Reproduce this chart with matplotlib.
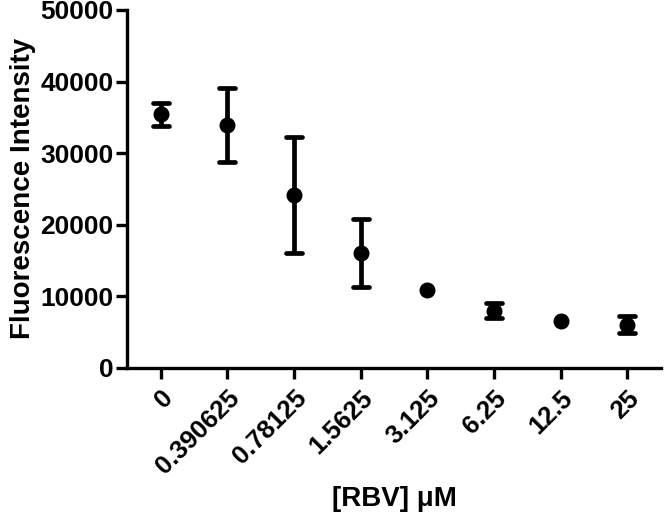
import matplotlib
matplotlib.use("Agg")
import matplotlib.pyplot as plt
from matplotlib.markers import MarkerStyle
import numpy as np

categories = ["0", "0.390625", "0.78125", "1.5625", "3.125", "6.25", "12.5", "25"]
means = [35400, 33900, 24150, 16050, 10900, 7950, 6550, 6050]
errors = [1550, 5150, 8150, 4750, 300, 1050, 300, 1250]

plt.rcParams['font.family'] = ['Liberation Sans', 'DejaVu Sans']
plt.rcParams['font.weight'] = 'bold'

fig = plt.figure(figsize=(6.64, 5.24), dpi=100)
ax = fig.add_axes([0.192, 0.298, 0.803, 0.683])
x = np.arange(len(categories))
means_a = np.array(means, dtype=float)
err_a = np.array(errors, dtype=float)
# error bars shorter than the symbol are hidden (as in the original)
vis = err_a > 700
_, caps, _ = ax.errorbar(x[vis], means_a[vis], yerr=err_a[vis], fmt='none', ecolor='black',
                         elinewidth=3.4, capsize=5.5, capthick=3.4)
for c in caps:
    c.set_marker(MarkerStyle('_', capstyle='round'))
ax.plot(x, means_a, 'o', color='black', ms=10.5, zorder=3)
ax.set_xlim(-0.5, len(categories) - 0.5)
ax.set_ylim(0, 50000)
ax.set_yticks([0, 10000, 20000, 30000, 40000, 50000])
ax.set_xticks(x)
ax.set_xticklabels(categories, rotation=45, ha='right', rotation_mode='anchor',
                   fontsize=18.5, fontweight='bold')
for lab in ax.get_yticklabels():
    lab.set_fontsize(19)
    lab.set_fontweight('bold')
for s in ['top', 'right']:
    ax.spines[s].set_visible(False)
for s in ['left', 'bottom']:
    ax.spines[s].set_linewidth(2.4)
ax.tick_params(width=2.4, length=8, pad=2)
ax.tick_params(axis='x', pad=5)
ax.set_ylabel("Fluorescence Intensity", fontsize=20, fontweight='bold', labelpad=3)
ax.set_xlabel("[RBV] μM", fontsize=20, fontweight='bold', labelpad=5)
fig.savefig("out.png", dpi=100)
